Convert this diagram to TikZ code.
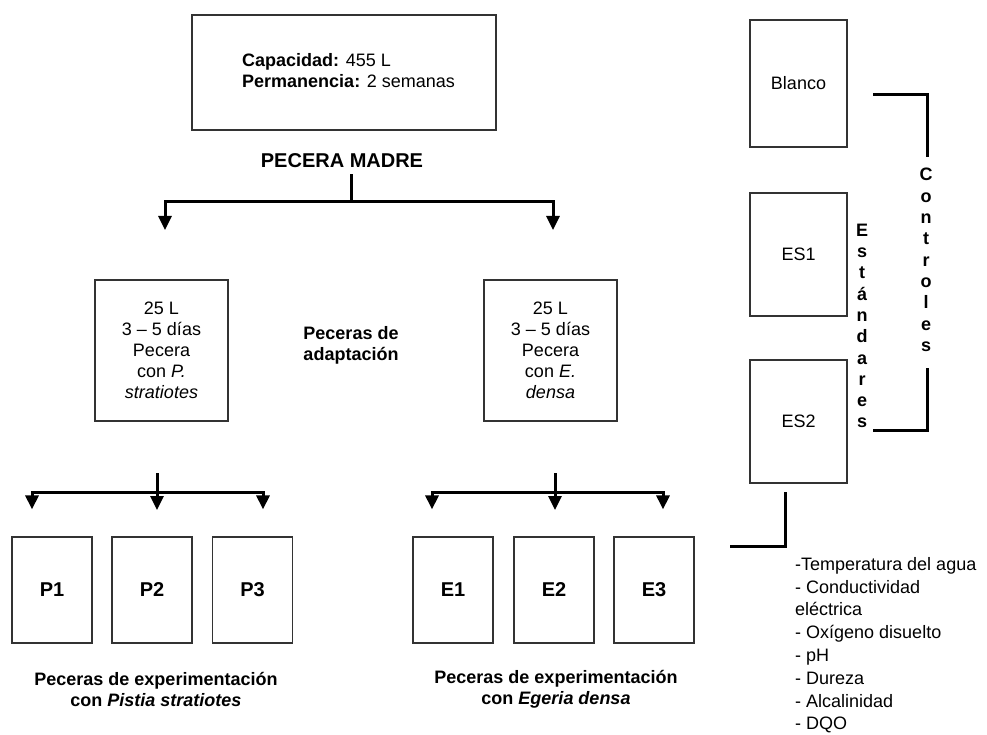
\documentclass[tikz,border=0pt]{standalone}
\usepackage{fontspec}
\setmainfont{Liberation Sans}
\usetikzlibrary{arrows.meta,calc}

\tikzset{
    tank/.style={draw=black!80, line width=1.2pt, inner sep=0pt, minimum width=#1},
    link/.style={line width=3pt},
    down/.style={link, -{Triangle[width=13pt,length=14pt]}},
    lbl/.style={inner sep=0pt, align=center, font=\fontsize{18}{21}\selectfont},
    big/.style={inner sep=0pt, align=center, font=\fontsize{20}{24}\selectfont\bfseries},
    stack/.style={inner sep=0pt, align=center, font=\fontsize{18}{21.3}\selectfont\bfseries},
}

\begin{document}
\begin{tikzpicture}[x=1pt,y=-1pt]
    \useasboundingbox (0,0) rectangle (987,735);

    % mother tank
    \node[tank=304pt, minimum height=115pt] (madrebox) at (344,72.5) {};
    \node[lbl, anchor=west, align=left] (madreinfo) at (242,71)
        {\textbf{Capacidad:} 455 L\\\textbf{Permanencia:} 2 semanas};
    \node[big] (madre) at (342,161) {PECERA MADRE};

    % adaptation tanks
    \node[tank=133pt, minimum height=141pt, lbl] (adaptP) at (161.5,350.5)
        {25 L\\3 -- 5 días\\Pecera\\con \textit{P.}\\\textit{stratiotes}};
    \node[tank=133pt, minimum height=141pt, lbl] (adaptE) at (550.5,350.5)
        {25 L\\3 -- 5 días\\Pecera\\con \textit{E.}\\\textit{densa}};
    \node[lbl, font=\fontsize{18}{21}\selectfont\bfseries] (adapt) at (351,345)
        {Peceras de\\adaptación};

    % experiment tanks
    \foreach \i/\x in {1/52,2/152,3/252.5}
        \node[tank=80pt, minimum height=106pt, big] (P\i) at (\x,590) {P\i};
    \foreach \i/\x in {1/453,2/554,3/654}
        \node[tank=80pt, minimum height=106pt, big] (E\i) at (\x,590) {E\i};
    \node[lbl, font=\fontsize{18}{21}\selectfont\bfseries] (expP) at (156,689)
        {Peceras de experimentación\\con \textit{Pistia stratiotes}};
    \node[lbl, font=\fontsize{18}{21}\selectfont\bfseries] (expE) at (556,689)
        {Peceras de experimentación\\con \textit{Egeria densa}};

    % controls
    \node[tank=97pt, minimum height=127pt, lbl] (blanco) at (798.5,83.5) {Blanco};
    \node[tank=97pt, minimum height=123pt, lbl] (es1) at (798.5,254.5) {ES1};
    \node[tank=97pt, minimum height=123pt, lbl] (es2) at (798.5,421.5) {ES2};
    \node[stack] (controles) at (926,260) {C\\o\\n\\t\\r\\o\\l\\e\\s};
    \node[stack] (estandares) at (862,326) {E\\s\\t\\á\\n\\d\\a\\r\\e\\s};
    \node[lbl, anchor=north west, align=left, font=\fontsize{18}{22.8}\selectfont] (param) at (795,557)
        {-Temperatura del agua\\- Conductividad\\eléctrica\\- Oxígeno disuelto\\- pH\\- Dureza\\- Alcalinidad\\- DQO};

    % junctions
    \coordinate (split0) at (351,202);
    \coordinate (tipP) at (165,230);
    \coordinate (tipE) at (553,230);
    \coordinate (splitP) at (157,492);
    \coordinate (splitE) at (555,492);
    \coordinate (ctrlA) at (873,95);
    \coordinate (ctrlB) at (927,157);
    \coordinate (ctrlC) at (927,368);
    \coordinate (ctrlD) at (873,430);
    \coordinate (paramA) at (785,492);
    \coordinate (paramB) at (730,546);

    % tree from the mother tank
    \draw[link] (madre.south -| split0) ++(0,6) -- (split0);
    \draw[down] (split0) -| (tipP);
    \draw[down] (split0) -| (tipE);

    % trees to the experiment tanks
    \draw[link] (splitP) ++(0,-19) -- (splitP);
    \draw[down] (splitP) -- ++(0,18);
    \draw[down] (splitP) -| ($(P1.north)+(-20,-27)$);
    \draw[down] (splitP) -| ($(P3.north)+(10.5,-27)$);
    \draw[link] (splitE) ++(0,-19) -- (splitE);
    \draw[down] (splitE) -- ++(0,18);
    \draw[down] (splitE) -| ($(E1.north)+(-21,-27)$);
    \draw[down] (splitE) -| ($(E3.north)+(9,-27)$);

    % brackets
    \draw[link] (ctrlA) -| (ctrlB);
    \draw[link] (ctrlC) |- (ctrlD);
    \draw[link] (paramA) |- (paramB);
\end{tikzpicture}
\end{document}
